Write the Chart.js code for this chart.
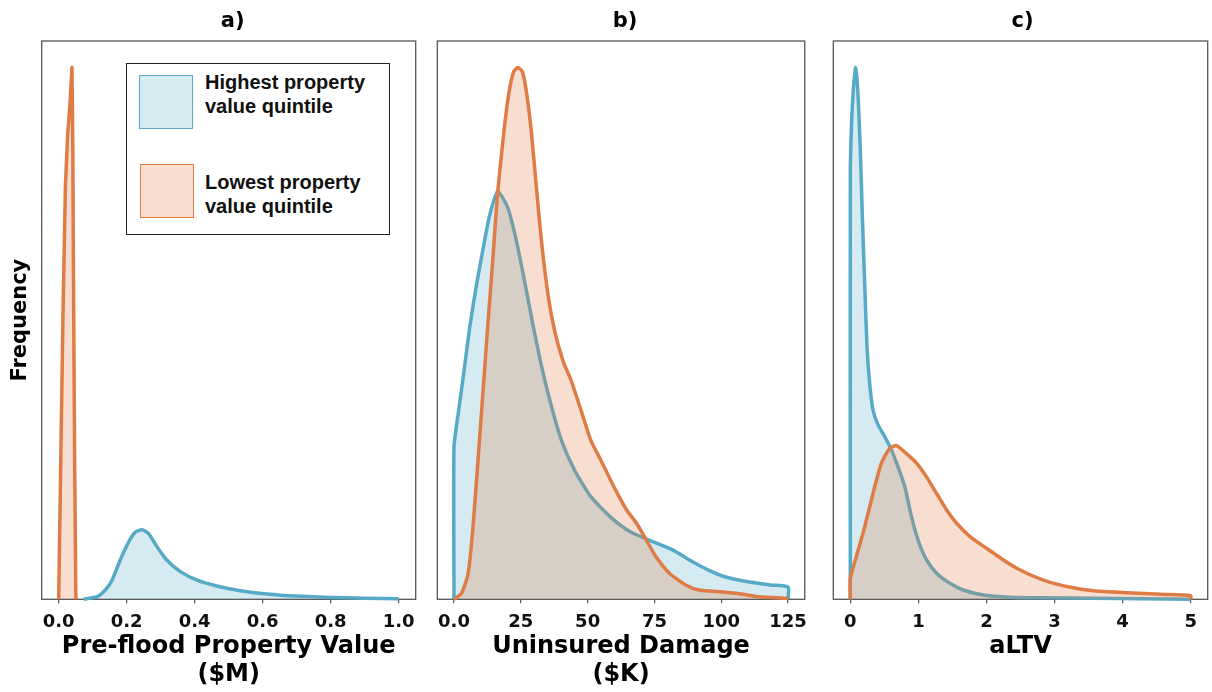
<!DOCTYPE html>
<html>
<head>
<meta charset="utf-8">
<script src="https://cdn.jsdelivr.net/npm/chart.js@4/dist/chart.umd.min.js"></script>
<style>
  html, body { margin: 0; padding: 0; background: #fff; }
  #wrap { position: relative; width: 1212px; height: 692px; overflow: hidden; }
  canvas { position: absolute; top: 0; }
  #legend {
    position: absolute; left: 126px; top: 63px; width: 262px; height: 170px;
    border: 1.3px solid #222; background: #fff;
    font-family: "Liberation Sans", Arial, sans-serif; font-weight: bold;
    font-size: 20px; line-height: 24px; color: #111;
  }
  .sw { position: absolute; width: 54px; height: 54px; box-sizing: border-box; }
  .lab { position: absolute; left: 78px; white-space: nowrap; }
</style>
</head>
<body>
<div id="wrap">
  <canvas id="ca" width="425" height="692" style="left:0px"></canvas>
  <canvas id="cb" width="390" height="692" style="left:425px"></canvas>
  <canvas id="cc" width="397" height="692" style="left:815px"></canvas>
  <div id="legend">
    <div class="sw" style="left:12px;top:11px;background:rgba(86,170,198,0.25);border:1.2px solid #56aac6"></div>
    <div class="lab" style="top:6px">Highest property<br>value quintile</div>
    <div class="sw" style="left:13px;top:100px;background:rgba(223,124,70,0.25);border:1.2px solid #df7c46"></div>
    <div class="lab" style="top:106px">Lowest property<br>value quintile</div>
  </div>
</div>
<script>
// ---- Panel a: pre-flood property value ($M), density curves ----
const valueHighX = [0.073, 0.113, 0.137, 0.157, 0.181, 0.206, 0.225, 0.245, 0.264, 0.289, 0.318, 0.358, 0.407, 0.465, 0.534, 0.612, 0.70, 0.80, 0.90, 1.0];
const valueHighY = [0.0, 0.005, 0.0175, 0.036, 0.074, 0.108, 0.126, 0.131, 0.124, 0.099, 0.074, 0.052, 0.036, 0.025, 0.016, 0.010, 0.006, 0.0035, 0.002, 0.001];
const valueLowX = [0.0, 0.007, 0.013, 0.0197, 0.024, 0.026, 0.033, 0.039, 0.0415, 0.044, 0.047, 0.0505];
const valueLowY = [0.0, 0.30, 0.55, 0.776, 0.84, 0.87, 0.93, 1.0, 0.85, 0.55, 0.25, 0.0];
const valueTicks = [0, 0.2, 0.4, 0.6, 0.8, 1.0];
const valueTickLabels = ['0.0', '0.2', '0.4', '0.6', '0.8', '1.0'];

// ---- Panel b: uninsured damage ($K) ----
const damageHighX = [0, 0, 1.6, 3.45, 5.9, 8.3, 10.8, 13.2, 16.3, 20, 23, 26.1, 29.2, 32.8, 36.5, 40.2, 45.1, 51.2, 58.5, 65.9, 73.2, 81.8, 89.1, 95.2, 101.4, 110, 118.5, 125, 125];
const damageHighY = [0, 0.287, 0.35, 0.418, 0.512, 0.588, 0.657, 0.719, 0.767, 0.738, 0.682, 0.606, 0.525, 0.437, 0.362, 0.299, 0.243, 0.193, 0.155, 0.127, 0.111, 0.093, 0.071, 0.055, 0.0425, 0.033, 0.027, 0.023, 0];
const damageLowX = [0, 2.8, 5.3, 7.1, 9.0, 10.8, 12.6, 14.5, 16.3, 18.6, 20.5, 22.3, 23.9, 25.6, 27.2, 29.0, 30.8, 32.7, 35.1, 37.6, 40.8, 43.8, 47.5, 51.2, 54.9, 59.8, 64.6, 68.3, 72.0, 75.6, 80.6, 86.7, 91.6, 100.1, 106.3, 113.6, 125];
const damageLowY = [0, 0.011, 0.049, 0.136, 0.262, 0.387, 0.512, 0.638, 0.763, 0.876, 0.951, 0.992, 1.0, 0.992, 0.951, 0.876, 0.776, 0.675, 0.575, 0.506, 0.448, 0.412, 0.356, 0.299, 0.262, 0.212, 0.168, 0.143, 0.111, 0.080, 0.049, 0.027, 0.0175, 0.014, 0.011, 0.005, 0.002];
const damageTicks = [0, 25, 50, 75, 100, 125];
const damageTickLabels = ['0.0', '25', '50', '75', '100', '125'];

// ---- Panel c: aLTV ----
const altvHighX = [0, 0, 0.02, 0.045, 0.078, 0.112, 0.147, 0.177, 0.211, 0.245, 0.284, 0.333, 0.407, 0.505, 0.604, 0.701, 0.80, 0.899, 0.996, 1.12, 1.267, 1.463, 1.66, 1.954, 2.35, 2.84, 3.58, 5.0];
const altvHighY = [0, 0.80, 0.90, 0.96, 1.0, 0.951, 0.845, 0.719, 0.594, 0.475, 0.406, 0.356, 0.328, 0.306, 0.281, 0.249, 0.212, 0.155, 0.111, 0.074, 0.049, 0.030, 0.0175, 0.008, 0.004, 0.003, 0.002, 0.0];
const altvLowX = [0, 0, 0.088, 0.211, 0.333, 0.457, 0.579, 0.678, 0.825, 0.973, 1.12, 1.267, 1.415, 1.562, 1.758, 2.0, 2.249, 2.495, 2.838, 3.232, 3.575, 4.067, 4.558, 5.0, 5.0];
const altvLowY = [0, 0.039, 0.08, 0.136, 0.199, 0.256, 0.284, 0.289, 0.274, 0.256, 0.23, 0.199, 0.168, 0.143, 0.118, 0.096, 0.074, 0.055, 0.036, 0.0225, 0.016, 0.0124, 0.0094, 0.0068, 0];
const altvTicks = [0, 1, 2, 3, 4, 5];
const altvTickLabels = ['0', '1', '2', '3', '4', '5'];

const highLabel = 'Highest property value quintile';
const lowLabel = 'Lowest property value quintile';

const BLUE = '#56aac6';
const BLUE_FILL = 'rgba(86,170,198,0.25)';
const ORANGE = '#df7c46';
const ORANGE_FILL = 'rgba(223,124,70,0.25)';
const BOLD_DEJAVU = '"DejaVu Sans", sans-serif';

const toPoints = (xs, ys) => xs.map((x, i) => ({ x: x, y: ys[i] }));

// Box around the plot area plus the panel letter above it
const framePlugin = {
  id: 'frame',
  beforeDatasetsDraw(chart, args, opts) {
    const { ctx, chartArea: a } = chart;
    ctx.save();
    ctx.strokeStyle = '#555';
    ctx.lineWidth = 1.3;
    ctx.strokeRect(a.left, a.top, a.right - a.left, a.bottom - a.top);
    ctx.restore();
  },
  afterDraw(chart, args, opts) {
    const { ctx, chartArea: a } = chart;
    ctx.save();
    ctx.fillStyle = '#000';
    ctx.font = 'bold 21px ' + BOLD_DEJAVU;
    ctx.textAlign = 'center';
    ctx.textBaseline = 'middle';
    ctx.fillText(opts.letter, (a.left + a.right) / 2 + (opts.dx || 0), 22);
    ctx.restore();
  }
};

function makePanel(id, cfg) {
  const datasets = [
    { label: lowLabel, data: toPoints(cfg.lowX, cfg.lowY), borderColor: ORANGE, backgroundColor: ORANGE_FILL,
      fill: 'origin', borderWidth: 3.5, pointRadius: 0, tension: cfg.lowTension, clip: false, borderJoinStyle: 'round' },
    { label: highLabel, data: toPoints(cfg.highX, cfg.highY), borderColor: BLUE, backgroundColor: BLUE_FILL,
      fill: 'origin', borderWidth: 3.5, pointRadius: 0, tension: 0.2, clip: false, borderJoinStyle: 'round' }
  ];
  return new Chart(document.getElementById(id), {
    type: 'line',
    data: { datasets: datasets },
    plugins: [framePlugin],
    options: {
      responsive: false,
      animation: false,
      devicePixelRatio: 1,
      layout: { padding: { top: 41, left: cfg.padLeft, right: cfg.padRight, bottom: 0 } },
      plugins: {
        legend: { display: false },
        tooltip: { enabled: false },
        frame: { letter: cfg.letter, dx: cfg.letterDx }
      },
      scales: {
        x: {
          type: 'linear',
          min: cfg.xMin, max: cfg.xMax,
          afterBuildTicks: s => { s.ticks = cfg.ticks.map(v => ({ value: v })); },
          afterFit: s => { s.height = 92.7; },
          ticks: {
            autoSkip: false, maxRotation: 0, padding: 8,
            color: '#111',
            font: { family: BOLD_DEJAVU, size: 18, weight: 'bold' },
            callback: (v, i) => cfg.tickLabels[i]
          },
          grid: { display: true, drawOnChartArea: false, drawTicks: true, tickLength: 4, color: '#555', lineWidth: 1.2 },
          border: { display: false },
          title: {
            display: true, text: cfg.title, color: '#000',
            font: { family: BOLD_DEJAVU, size: 24, weight: 'bold', lineHeight: '28px' },
            padding: { top: 0, bottom: cfg.titlePadBottom }
          }
        },
        y: {
          type: 'linear', min: 0, max: 1.05,
          display: cfg.showY,
          afterFit: s => { if (cfg.showY) s.width = 41.7; },
          ticks: { display: false },
          grid: { display: false },
          border: { display: false },
          title: {
            display: cfg.showY, text: 'Frequency', color: '#000',
            font: { family: BOLD_DEJAVU, size: 21, weight: 'bold', lineHeight: '24px' },
            padding: { top: 9, bottom: 0 }
          }
        }
      }
    }
  });
}

makePanel('ca', {
  letter: 'a)', letterDx: 4,
  highX: valueHighX, highY: valueHighY, lowX: valueLowX, lowY: valueLowY, lowTension: 0,
  xMin: -0.05, xMax: 1.05, ticks: valueTicks, tickLabels: valueTickLabels,
  title: ['Pre-flood Property Value', '($M)'], titlePadBottom: 3,
  padLeft: 0, padRight: 9.3, showY: true
});
makePanel('cb', {
  letter: 'b)', letterDx: 4,
  highX: damageHighX, highY: damageHighY, lowX: damageLowX, lowY: damageLowY, lowTension: 0.2,
  xMin: -6.25, xMax: 131.25, ticks: damageTicks, tickLabels: damageTickLabels,
  title: ['Uninsured Damage', '($K)'], titlePadBottom: 3,
  padLeft: 12.3, padRight: 3.3, showY: false
});
makePanel('cc', {
  letter: 'c)', letterDx: 2,
  highX: altvHighX, highY: altvHighY, lowX: altvLowX, lowY: altvLowY, lowTension: 0.2,
  xMin: -0.25, xMax: 5.25, ticks: altvTicks, tickLabels: altvTickLabels,
  title: 'aLTV', titlePadBottom: 31,
  padLeft: 18.3, padRight: 4.3, showY: false
});
</script>
</body>
</html>
